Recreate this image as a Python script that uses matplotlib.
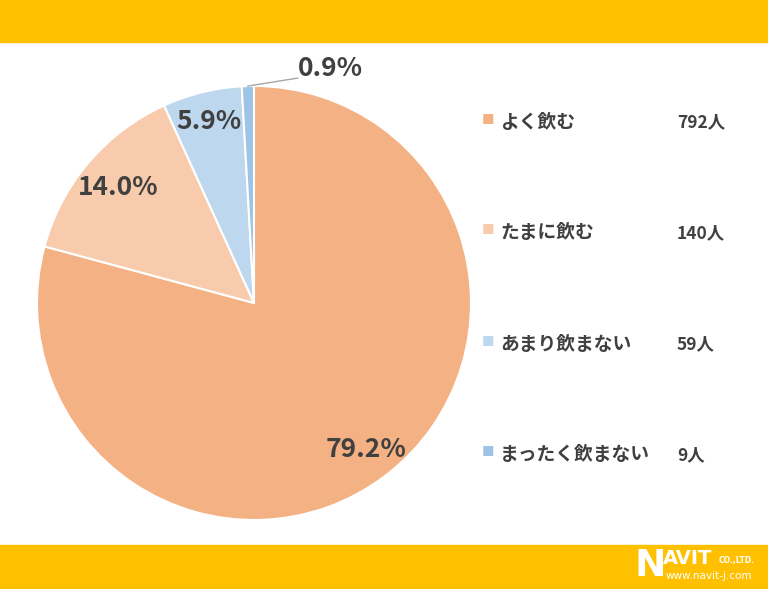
import matplotlib
matplotlib.use("Agg")
import matplotlib.pyplot as plt
import numpy as np

plt.rcParams['font.family'] = ['Noto Sans CJK JP', 'DejaVu Sans']

categories = ["よく飲む", "たまに飲む", "あまり飲まない", "まったく飲まない"]
counts = [792, 140, 59, 9]
percents = ["79.2%", "14.0%", "5.9%", "0.9%"]
count_labels = ["792人", "140人", "59人", "9人"]
colors = ["#F4B183", "#F8CBAD", "#BDD7EE", "#9DC3E6"]

W, H = 768, 589
fig = plt.figure(figsize=(W / 100, H / 100), dpi=100)
fig.patch.set_facecolor("white")

yellow = "#FFC000"
text_col = "#404040"

# top and bottom bands
fig.add_artist(plt.Rectangle((0, 1 - 42 / H), 1, 42 / H, transform=fig.transFigure,
                             color=yellow, zorder=0))
fig.add_artist(plt.Rectangle((0, 0), 1, 44 / H, transform=fig.transFigure,
                             color=yellow, zorder=0))

# pie axes
cx, cy, r = 254, 303, 217
ax = fig.add_axes([(cx - r) / W, (H - cy - r) / H, 2 * r / W, 2 * r / H])
wedges, _ = ax.pie(counts, colors=colors, startangle=90, counterclock=False,
                   wedgeprops=dict(edgecolor="white", linewidth=1.5))
ax.set_xlim(-1, 1)
ax.set_ylim(-1, 1)
ax.set_aspect("equal")
ax.axis("off")

label_r = [0.85, 0.82, 0.86]
for i, w in enumerate(wedges):
    mid = np.deg2rad((w.theta1 + w.theta2) / 2)
    ex, ey = np.cos(mid), np.sin(mid)
    if i < 3:
        ax.text(label_r[i] * ex, label_r[i] * ey, percents[i],
                ha="center", va="center", fontsize=19, fontweight="bold",
                color=text_col)
    else:
        ax.plot([ex, ex + 0.23], [ey, ey + 0.037], color="#A6A6A6", lw=1,
                clip_on=False)
        ax.text(ex + 0.38, ey + 0.083, percents[i],
                ha="center", va="center", fontsize=19, fontweight="bold",
                color=text_col, clip_on=False)

# legend
rows_y = [120, 231, 342, 453]
for i in range(4):
    y = 1 - rows_y[i] / H
    fig.text(488 / W, y, "■", color=colors[i], fontsize=9, ha="center", va="center")
    fig.text(500 / W, y, categories[i], color=text_col, fontsize=13.5,
             fontweight="bold", ha="left", va="center_baseline")
    fig.text(677 / W, y, count_labels[i], color=text_col, fontsize=12.5,
             fontweight="bold", ha="left", va="center_baseline")

# logo
fig.text(634 / W, 1 - 566 / H, "N", color="white", fontsize=27, fontweight="bold",
         ha="left", va="center", family="DejaVu Sans")
fig.text(663 / W, 1 - 558 / H, "AVIT", color="white", fontsize=14, fontweight="bold",
         ha="left", va="center", family="DejaVu Sans")
fig.text(719 / W, 1 - 560 / H, "CO.,LTD.", color="white", fontsize=5.5, fontweight="bold",
         ha="left", va="center", family="DejaVu Sans")
fig.text(666 / W, 1 - 576 / H, "www.navit-j.com", color="white", fontsize=7.5,
         ha="left", va="center", family="DejaVu Sans")

fig.savefig("out.png", dpi=100, facecolor="white")
